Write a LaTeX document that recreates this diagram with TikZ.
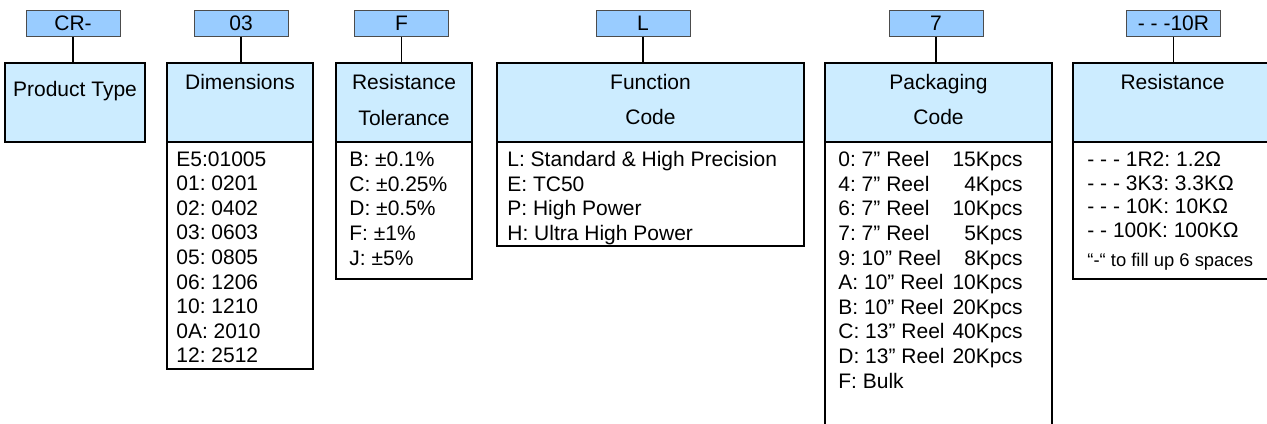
\documentclass[tikz,border=0pt]{standalone}
\usepackage{fontspec}
\setmainfont{Liberation Sans}
\usetikzlibrary{positioning}
\definecolor{codeblue}{RGB}{153,204,255}
\definecolor{headblue}{RGB}{204,236,255}
\newcommand\partfont{\fontsize{10.5}{12.3}\selectfont}
\newcommand\notefont{\fontsize{9.2}{11}\selectfont}
\frenchspacing

\begin{document}
\begin{tikzpicture}[x=0.5pt,y=-0.5pt,font=\partfont]
	\tikzstyle{code} = [rectangle, draw=black!70, line width=0.5pt, fill=codeblue, minimum width=47pt, minimum height=13pt, inner sep=0pt]
	\tikzstyle{head} = [rectangle, draw, line width=1pt, fill=headblue, inner sep=0pt]
	\tikzstyle{body} = [rectangle, draw, line width=1pt, fill=white, inner sep=0pt]
	\tikzstyle{title} = [anchor=base, inner sep=0pt]
	\tikzstyle{item} = [anchor=base west, inner sep=0pt]
	\tikzstyle{link} = [line width=0.75pt]
	\clip (0,0) rectangle (1267,423);
	% code fields
	\node [code](cr_code) at (73,23) {CR-};
	\node [code](dim_code) at (241,23) {03};
	\node [code](tol_code) at (401.5,23) {F};
	\node [code](fun_code) at (643,23) {L};
	\node [code](pack_code) at (936,23) {7};
	\node [code](res_code) at (1173.5,23) {- - -10R};
	% boxes
	\node [head,minimum width=70pt,minimum height=39.5pt](prod_head) at (75,102.5) {};
	\node [body,minimum width=73pt,minimum height=113.5pt](dim_body) at (240,255.5) {};
	\node [head,minimum width=73pt,minimum height=39.5pt](dim_head) at (240,102.5) {};
	\node [body,minimum width=68pt,minimum height=68.5pt](tol_body) at (404,210.5) {};
	\node [head,minimum width=68pt,minimum height=39.5pt](tol_head) at (404,102.5) {};
	\node [body,minimum width=153.5pt,minimum height=52pt](fun_body) at (650.5,194) {};
	\node [head,minimum width=153.5pt,minimum height=39.5pt](fun_head) at (650.5,102.5) {};
	\node [body,minimum width=113.5pt,minimum height=169pt](pack_body) at (938.5,311) {};
	\node [head,minimum width=113.5pt,minimum height=39.5pt](pack_head) at (938.5,102.5) {};
	\node [body,minimum width=99.5pt,minimum height=68.5pt](res_body) at (1172.5,210.5) {};
	\node [head,minimum width=99.5pt,minimum height=39.5pt](res_head) at (1172.5,102.5) {};
	% headings
	\node [title](prod_t) at (75,96) {Product Type};
	\node [title](dim_t) at (240,89.3) {Dimensions};
	\node [title](tol_t1) at (404,89.3) {Resistance};
	\node [title](tol_t2) at (404,125) {Tolerance};
	\node [title](fun_t1) at (650.5,89.3) {Function};
	\node [title](fun_t2) at (650.5,124.3) {Code};
	\node [title](pack_t1) at (938.5,89.3) {Packaging};
	\node [title](pack_t2) at (938.5,124.3) {Code};
	\node [title](res_t) at (1172.5,89.3) {Resistance};
	% lists
	\foreach \t [count=\i from 0] in {E5:01005, 01: 0201, 02: 0402, 03: 0603, 05: 0805, 06: 1206, 10: 1210, 0A: 2010, 12: 2512}
		\node [item](dim_\i) at (176,166+24.6*\i) {\t};
	\foreach \t [count=\i from 0] in {B: ±0.1\%, C: ±0.25\%, D: ±0.5\%, F: ±1\%, J: ±5\%}
		\node [item](tol_\i) at (349,166.7+24.6*\i) {\t};
	\foreach \t [count=\i from 0] in {L: Standard \& High Precision, E: TC50, P: High Power, H: Ultra High Power}
		\node [item](fun_\i) at (507,166.7+24.6*\i) {\t};
	\foreach \t [count=\i from 0] in {0: 7” Reel, 4: 7” Reel, 6: 7” Reel, 7: 7” Reel, 9: 10” Reel, A: 10” Reel, B: 10” Reel, C: 13” Reel, D: 13” Reel, F: Bulk}
		\node [item](pack_\i) at (838,166.7+24.6*\i) {\t};
	\foreach \t [count=\i from 0] in {15Kpcs, 4Kpcs, 10Kpcs, 5Kpcs, 8Kpcs, 10Kpcs, 20Kpcs, 40Kpcs, 20Kpcs}
		\node [item,anchor=base east](qty_\i) at (1023,166.7+24.6*\i) {\t};
	\foreach \t [count=\i from 0] in {- - - 1R2: 1.2Ω, - - - 3K3: 3.3KΩ, - - - 10K: 10KΩ, - - 100K: 100KΩ}
		\node [item](res_\i) at (1087,166.7+23.5*\i) {\t};
	\node [item,font=\notefont](res_note) at (1087,266.7) {“-“ to fill up 6 spaces};
	% links
	\draw [link] (cr_code.south) -- (cr_code.south |- prod_head.north);
	\draw [link] (dim_code.south) -- (dim_code.south |- dim_head.north);
	\draw [link] (tol_code.south) -- (tol_code.south |- tol_head.north);
	\draw [link] (fun_code.south) -- (fun_code.south |- fun_head.north);
	\draw [link] (pack_code.south) -- (pack_code.south |- pack_head.north);
	\draw [link] (res_code.south) -- (res_code.south |- res_head.north);
\end{tikzpicture}
\end{document}
